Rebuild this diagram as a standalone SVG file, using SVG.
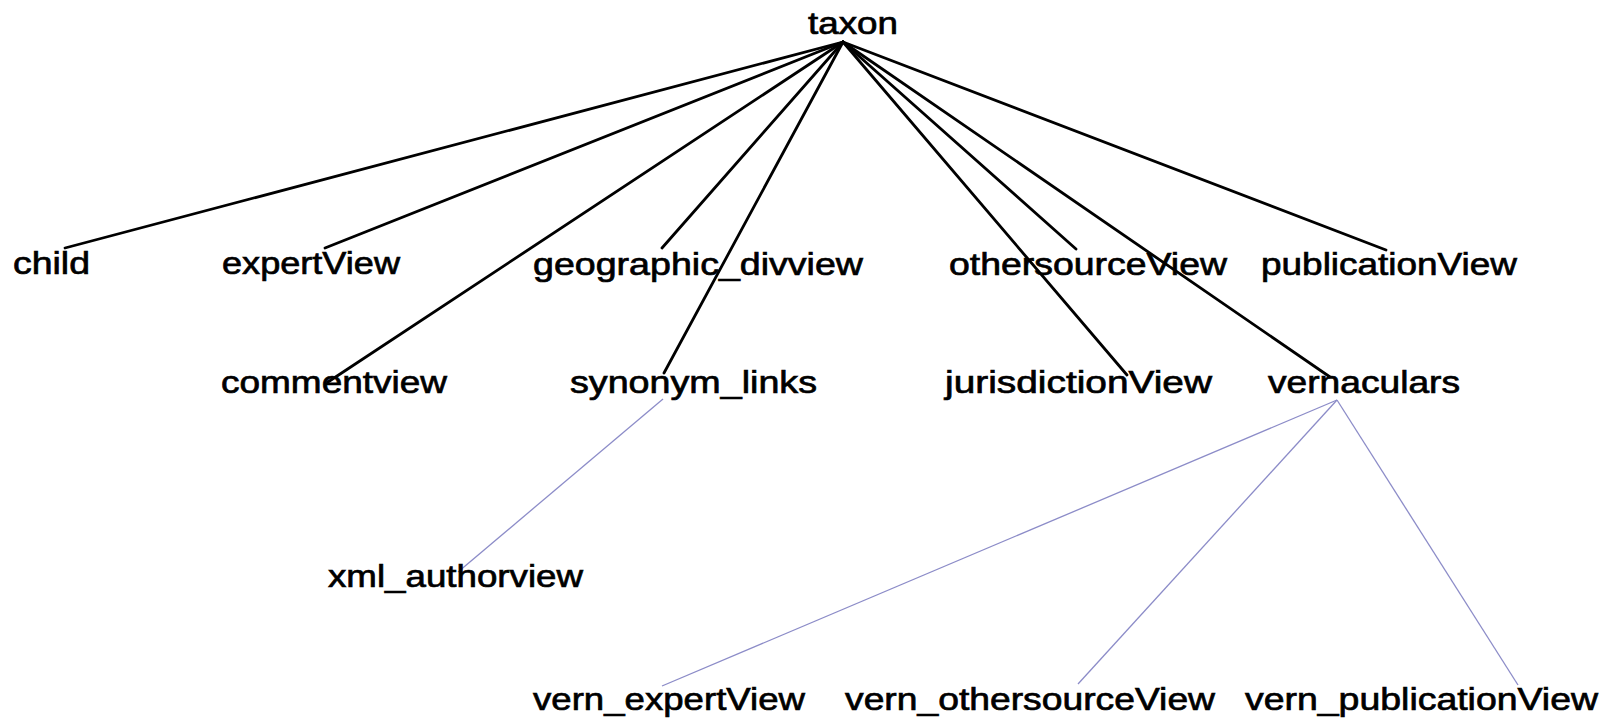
<svg xmlns="http://www.w3.org/2000/svg" width="1614" height="721" viewBox="0 0 1614 721">
<style>
text { font-family: "Liberation Sans", Arial, sans-serif; font-size: 32px; fill: #000; stroke: #000; stroke-width: 0.7; }
.main line { stroke: #000; stroke-width: 2.8; stroke-linecap: round; }
.sub line { stroke: #8c8cc8; stroke-width: 1.3; }
</style>
<rect width="1614" height="721" fill="#fff"/>
<g id="connectors">
  <g class="main">
    <line x1="843" y1="42" x2="65" y2="248"/>
    <line x1="843" y1="42" x2="325" y2="248"/>
    <line x1="843" y1="42" x2="328" y2="382"/>
    <line x1="843" y1="42" x2="662" y2="248"/>
    <line x1="843" y1="42" x2="664" y2="373"/>
    <line x1="843" y1="42" x2="1127" y2="375"/>
    <line x1="843" y1="42" x2="1076" y2="249"/>
    <line x1="843" y1="42" x2="1330" y2="377"/>
    <line x1="843" y1="42" x2="1386" y2="250"/>
  </g>
  <g class="sub">
    <line x1="663" y1="399" x2="458" y2="572"/>
    <line x1="1337" y1="400" x2="662" y2="686"/>
    <line x1="1337" y1="400" x2="1078" y2="684"/>
    <line x1="1337" y1="400" x2="1518" y2="685"/>
  </g>
</g>
<g id="taxon"><text x="808" y="34" textLength="90" lengthAdjust="spacingAndGlyphs">taxon</text></g>
<g id="child"><text x="13" y="274" textLength="77" lengthAdjust="spacingAndGlyphs">child</text></g>
<g id="expertView"><text x="222" y="274" textLength="178" lengthAdjust="spacingAndGlyphs">expertView</text></g>
<g id="geographic_divview"><text x="533" y="275" textLength="330" lengthAdjust="spacingAndGlyphs">geographic_divview</text></g>
<g id="othersourceView"><text x="949" y="275" textLength="278" lengthAdjust="spacingAndGlyphs">othersourceView</text></g>
<g id="publicationView"><text x="1261" y="275" textLength="256" lengthAdjust="spacingAndGlyphs">publicationView</text></g>
<g id="commentview"><text x="221" y="393" textLength="226" lengthAdjust="spacingAndGlyphs">commentview</text></g>
<g id="synonym_links"><text x="570" y="393" textLength="247" lengthAdjust="spacingAndGlyphs">synonym_links</text></g>
<g id="jurisdictionView"><text x="945" y="393" textLength="267" lengthAdjust="spacingAndGlyphs">jurisdictionView</text></g>
<g id="vernaculars"><text x="1268" y="393" textLength="192" lengthAdjust="spacingAndGlyphs">vernaculars</text></g>
<g id="xml_authorview"><text x="328" y="587" textLength="255" lengthAdjust="spacingAndGlyphs">xml_authorview</text></g>
<g id="vern_expertView"><text x="533" y="710" textLength="272" lengthAdjust="spacingAndGlyphs">vern_expertView</text></g>
<g id="vern_othersourceView"><text x="845" y="710" textLength="370" lengthAdjust="spacingAndGlyphs">vern_othersourceView</text></g>
<g id="vern_publicationView"><text x="1245" y="710" textLength="353" lengthAdjust="spacingAndGlyphs">vern_publicationView</text></g>
</svg>
